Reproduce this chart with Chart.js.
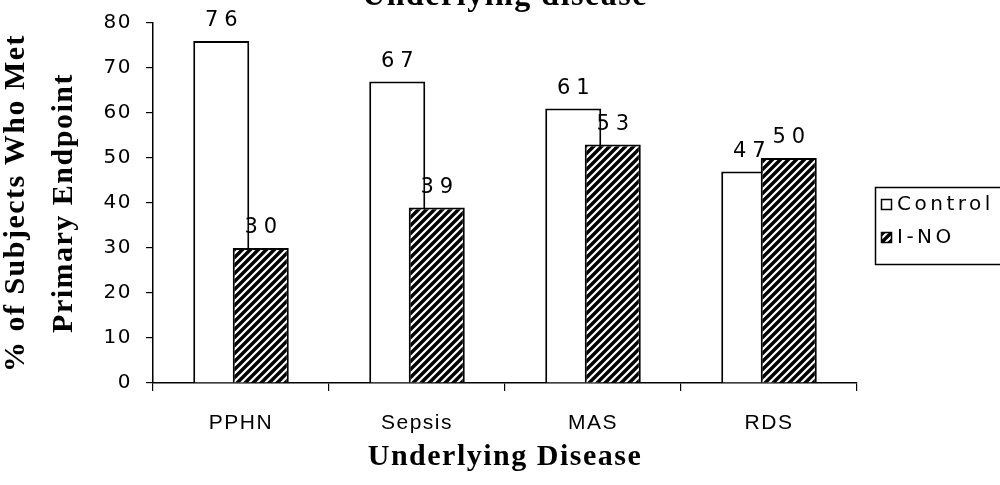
<!DOCTYPE html>
<html><head><meta charset="utf-8">
<script src="https://cdn.jsdelivr.net/npm/chart.js@4.4.1/dist/chart.umd.min.js"></script>
<style>html,body{margin:0;padding:0;background:#fff;overflow:hidden}#wrap{position:relative;width:1000px;height:485px}canvas{display:block}</style>
</head><body><div id="wrap"><canvas id="c" width="1000" height="485" style="width:1000px;height:485px"></canvas></div>
<script>
// ---- data ----
const categories = ['PPHN', 'Sepsis', 'MAS', 'RDS'];
const controlValues = [76, 67, 61, 47];
const inoValues = [30, 39, 53, 50];
const yTickValues = [0, 10, 20, 30, 40, 50, 60, 70, 80];
const seriesNames = ['Control', 'I-NO'];
const chartTitle = 'Underlying disease';
const xTitle = 'Underlying Disease';
const yTitle = ['% of Subjects Who Met', 'Primary Endpoint'];

const SANS = '"DejaVu Sans", "Liberation Sans", sans-serif';
const ARIAL = '"Liberation Sans", Arial, sans-serif';
const SERIF = '"Liberation Serif", "DejaVu Serif", serif';

// hatch pattern: black with white "/" stripes
function makeHatch() {
  const t = document.createElement('canvas');
  t.width = 8; t.height = 8;
  const g = t.getContext('2d');
  g.fillStyle = '#000'; g.fillRect(0, 0, 8, 8);
  g.strokeStyle = '#fff'; g.lineWidth = 2.2; g.lineCap = 'square';
  g.beginPath();
  g.moveTo(0, 8); g.lineTo(8, 0);
  g.moveTo(-2, 2); g.lineTo(2, -2);
  g.moveTo(6, 10); g.lineTo(10, 6);
  g.stroke();
  return g.createPattern(t, 'repeat');
}
const hatch = makeHatch();

const spacingPlugin = {
  id: 'spacing',
  beforeDraw(chart) { chart.ctx.letterSpacing = '1.5px'; }
};

// draw Control first, then I-NO over it (overlapping bars)
const orderPlugin = {
  id: 'order',
  beforeDatasetsDraw(chart) {
    const ctx = chart.ctx;
    ctx.save();
    for (let i = 0; i < chart.data.datasets.length; i++) {
      const meta = chart.getDatasetMeta(i);
      if (!meta.hidden) meta.controller.draw();
    }
    ctx.restore();
    return false;
  }
};

const labelPlugin = {
  id: 'valueLabels',
  afterDraw(chart) {
    const ctx = chart.ctx;
    ctx.save();
    ctx.font = '21px ' + SANS;
    ctx.letterSpacing = '6px';
    ctx.fillStyle = '#000';
    ctx.textAlign = 'center';
    ctx.textBaseline = 'alphabetic';
    chart.data.datasets.forEach((ds, di) => {
      const meta = chart.getDatasetMeta(di);
      meta.data.forEach((el, i) => {
        ctx.fillText(String(ds.data[i]), el.x + 3, el.y - 15);
      });
    });
    ctx.restore();
  }
};

const legendPlugin = {
  id: 'boxLegend',
  afterDraw(chart) {
    const ctx = chart.ctx;
    ctx.save();
    ctx.letterSpacing = '0px';
    ctx.strokeStyle = '#000';
    ctx.lineWidth = 1.5;
    ctx.strokeRect(875.5, 187.5, 150, 77);
    chart.data.datasets.forEach((ds, i) => {
      const cy = 205 + i * 33;
      ctx.fillStyle = ds.backgroundColor;
      ctx.fillRect(881, cy - 6, 11, 11);
      ctx.lineWidth = 1.5;
      ctx.strokeRect(881.5, cy - 5.5, 10, 10);
      ctx.font = '20px ' + SANS;
      ctx.letterSpacing = '3.5px';
      ctx.fillStyle = '#000';
      ctx.textAlign = 'left';
      ctx.textBaseline = 'middle';
      ctx.fillText(ds.label, 897, cy);
      ctx.letterSpacing = '0px';
    });
    ctx.restore();
  }
};

new Chart(document.getElementById('c'), {
  type: 'bar',
  data: {
    labels: categories,
    datasets: [
      { label: seriesNames[0], data: controlValues, backgroundColor: '#fff', borderColor: '#000', borderWidth: 2,
        categoryPercentage: 0.449, barPercentage: 1.418 },
      { label: seriesNames[1], data: inoValues, backgroundColor: hatch, borderColor: '#000', borderWidth: 2,
        categoryPercentage: 0.449, barPercentage: 1.418 }
    ]
  },
  options: {
    responsive: false,
    animation: false,
    devicePixelRatio: 1,
    layout: { padding: { left: 0, right: 143, top: 0, bottom: 0 } },
    plugins: {
      legend: { display: false },
      tooltip: { enabled: false },
      title: {
        display: true, text: chartTitle, fullSize: false, color: '#000',
        font: { family: SERIF, size: 32, weight: 'bold', lineHeight: 1.2 },
        padding: { top: -22.7, bottom: 7.3 }
      }
    },
    scales: {
      x: {
        afterFit(s) { s.height = 102; },
        grid: { display: true, drawOnChartArea: false, drawTicks: true, tickLength: 8, color: '#000', lineWidth: 1.2, offset: true },
        border: { display: true, color: '#000', width: 1.5 },
        ticks: { color: '#000', font: { family: ARIAL, size: 21 }, padding: 20, maxRotation: 0, autoSkip: false },
        title: { display: true, text: xTitle, color: '#000',
          font: { family: SERIF, size: 30, weight: 'bold', lineHeight: 1.2 }, padding: { top: 0, bottom: 10 } }
      },
      y: {
        min: 0, max: 80,
        afterFit(s) { s.width = 153; },
        afterBuildTicks(s) { s.ticks = yTickValues.map(v => ({ value: v })); },
        grid: { display: true, drawOnChartArea: false, drawTicks: true, tickLength: 7, color: '#000', lineWidth: 1.2 },
        border: { display: true, color: '#000', width: 1.5 },
        ticks: { color: '#000', font: { family: SANS, size: 20, lineHeight: 0.9 }, padding: 14 },
        title: { display: true, text: yTitle, color: '#000',
          font: { family: SERIF, size: 30, weight: 'bold', lineHeight: 1.6 }, padding: { top: -8, bottom: 0 } }
      }
    }
  },
  plugins: [spacingPlugin, orderPlugin, labelPlugin, legendPlugin]
});
</script>
</body></html>
